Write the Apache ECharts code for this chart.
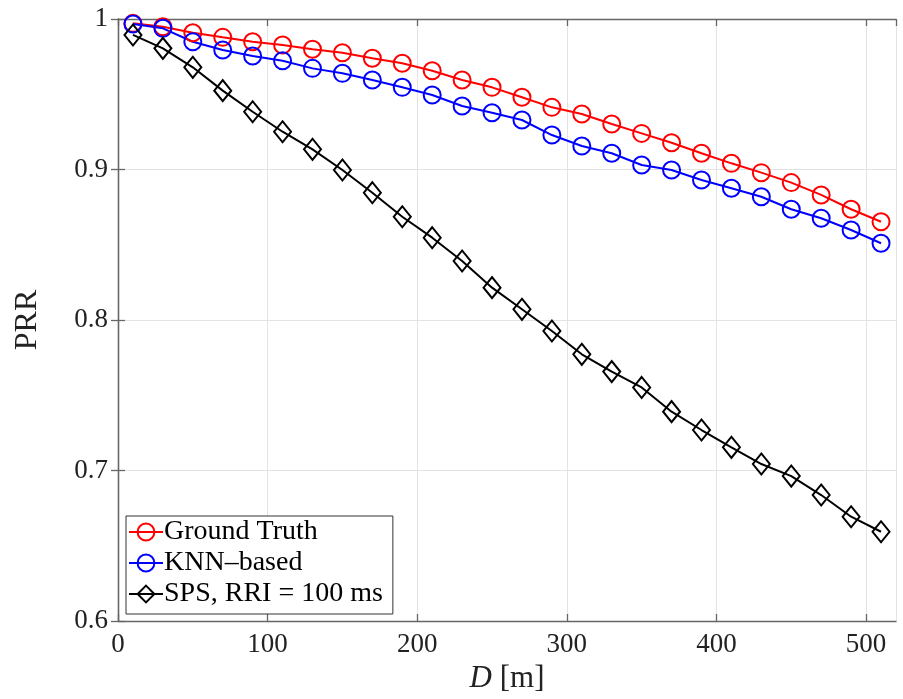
<!DOCTYPE html>
<html>
<head>
<meta charset="utf-8">
<script src="https://cdn.jsdelivr.net/npm/echarts@6/dist/echarts.min.js"></script>
<style>
html,body{margin:0;padding:0;background:#fff;}
#chart{width:903px;height:699px;}
</style>
</head>
<body>
<div id="chart"></div>
<script>
const distances = [10,30,50,70,90,110,130,150,170,190,210,230,250,270,290,310,330,350,370,390,410,430,450,470,490,510];
const groundTruth = [0.9971,0.9949,0.9909,0.9878,0.9849,0.9827,0.9799,0.9776,0.9739,0.9706,0.9656,0.9595,0.9546,0.9480,0.9413,0.9369,0.9302,0.9240,0.9178,0.9108,0.9041,0.8979,0.8913,0.8831,0.8736,0.8653];
const knnBased = [0.9967,0.9938,0.9849,0.9794,0.9754,0.9723,0.9672,0.9639,0.9595,0.9546,0.9495,0.9422,0.9377,0.9329,0.9229,0.9156,0.9108,0.9030,0.8997,0.8930,0.8875,0.8819,0.8736,0.8676,0.8598,0.8510];
const spsRRI100 = [0.9894,0.9805,0.9679,0.9524,0.9384,0.9251,0.9134,0.8997,0.8846,0.8686,0.8547,0.8392,0.8215,0.8071,0.7927,0.7772,0.7657,0.7552,0.7391,0.7269,0.7154,0.7043,0.6963,0.6837,0.6693,0.6593];
const seriesNames = ['Ground Truth', 'KNN\u2013based', 'SPS, RRI = 100 ms'];

const FONT = 'Liberation Serif';
const AXIS_COLOR = '#666666';
const chart = echarts.init(document.getElementById('chart'), null, {renderer: 'canvas'});

function pairs(vals) { return distances.map((d, i) => [d, vals[i]]); }

function mkSeries(name, vals, color, symbol, size) {
  return {
    name: name,
    type: 'line',
    xAxisIndex: 0, yAxisIndex: 0,
    data: pairs(vals),
    symbol: symbol,
    symbolSize: size,
    showAllSymbol: true,
    lineStyle: {color: color, width: 2},
    itemStyle: {color: 'rgba(0,0,0,0)', borderColor: color, borderWidth: 2},
    emphasis: {disabled: true},
    animation: false
  };
}

const option = {
  backgroundColor: '#ffffff',
  animation: false,
  grid: {left: 118, right: 7, top: 19, bottom: 78, outerBoundsMode: 'none'},
  legend: {
    orient: 'vertical',
    left: 126, top: 516,
    data: seriesNames,
    itemWidth: 34, itemHeight: 21, itemGap: 3,
    padding: [2, 10, 6, 2],
    backgroundColor: '#ffffff',
    borderColor: '#333333', borderWidth: 1, borderRadius: 0,
    textStyle: {fontFamily: FONT, fontSize: 28, color: '#000', padding: [0,0,0,-4]},
    selectedMode: false
  },
  xAxis: [{
    type: 'value', position: 'bottom', min: 0, max: 520, interval: 100,
    name: '{i|D} [m]', nameLocation: 'middle', nameGap: 26,
    nameTextStyle: {fontFamily: FONT, fontSize: 31, color: '#222',
      rich: {i: {fontFamily: FONT, fontStyle: 'italic', fontSize: 31, color: '#222'}}},
    axisLine: {show: true, lineStyle: {color: AXIS_COLOR, width: 1.3}},
    axisTick: {show: true, inside: true, length: 7, lineStyle: {color: AXIS_COLOR, width: 1.3}},
    axisLabel: {fontFamily: FONT, fontSize: 27, color: '#222', margin: 10, showMaxLabel: false,
      formatter: v => (v % 100 === 0 ? String(v) : '')},
    splitLine: {show: true, lineStyle: {color: '#e3e3e3', width: 1}}
  }, {
    type: 'value', position: 'top', min: 0, max: 520, interval: 100,
    axisLine: {show: true, lineStyle: {color: AXIS_COLOR, width: 1.3}},
    axisTick: {show: true, inside: true, length: 7, lineStyle: {color: AXIS_COLOR, width: 1.3}},
    axisLabel: {show: false},
    splitLine: {show: false}
  }],
  yAxis: [{
    type: 'value', position: 'left', min: 0.6, max: 1, interval: 0.1,
    name: 'PRR', nameLocation: 'middle', nameGap: 74, nameRotate: 90,
    nameTextStyle: {fontFamily: FONT, fontSize: 32, color: '#222'},
    axisLine: {show: true, lineStyle: {color: AXIS_COLOR, width: 1.3}},
    axisTick: {show: true, inside: true, length: 7, lineStyle: {color: AXIS_COLOR, width: 1.3}},
    axisLabel: {fontFamily: FONT, fontSize: 27, color: '#222', margin: 10,
      formatter: v => { const r = Math.round(v * 10) / 10; return r === 1 ? '1' : r.toFixed(1); }},
    splitLine: {show: true, lineStyle: {color: '#e3e3e3', width: 1}}
  }, {
    type: 'value', position: 'right', min: 0.6, max: 1, interval: 0.1,
    axisLine: {show: true, lineStyle: {color: AXIS_COLOR, width: 1.3}},
    axisTick: {show: true, inside: true, length: 7, lineStyle: {color: AXIS_COLOR, width: 1.3}},
    axisLabel: {show: false},
    splitLine: {show: false}
  }],
  series: [
    mkSeries(seriesNames[0], groundTruth, '#ff0000', 'circle', 17),
    mkSeries(seriesNames[1], knnBased, '#0000ff', 'circle', 17),
    mkSeries(seriesNames[2], spsRRI100, '#000000', 'diamond', [17, 21])
  ]
};
chart.setOption(option);
</script>
</body>
</html>
